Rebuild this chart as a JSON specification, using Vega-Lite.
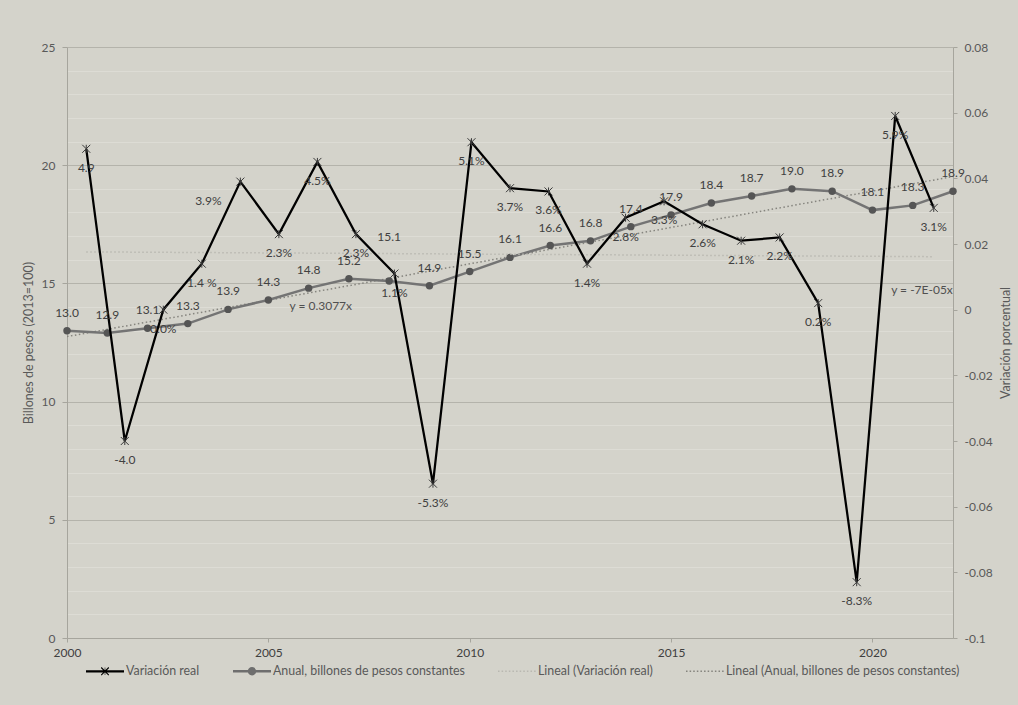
{
  "$schema": "https://vega.github.io/schema/vega-lite/v6.json",
  "width": 886,
  "height": 591,
  "autosize": "none",
  "padding": {"left": 67, "top": 47, "right": 65, "bottom": 67},
  "background": "#d4d3cb",
  "config": {
    "font": "Lato",
    "view": {"stroke": null},
    "axis": {"labelFont": "Lato", "titleFont": "Lato", "domainColor": "#a6a59d", "tickColor": "#a6a59d", "labelColor": "#595959", "titleColor": "#595959", "labelFontSize": 12, "titleFontSize": 12.5, "titleFontWeight": "normal"},
    "legend": {"labelFont": "Lato"}
  },
  "datasets": {
    "anual": [
      {"year": 2000, "value": 13.0, "label": "13.0"},
      {"year": 2001, "value": 12.9, "label": "12.9"},
      {"year": 2002, "value": 13.1, "label": "13.1"},
      {"year": 2003, "value": 13.3, "label": "13.3"},
      {"year": 2004, "value": 13.9, "label": "13.9"},
      {"year": 2005, "value": 14.3, "label": "14.3"},
      {"year": 2006, "value": 14.8, "label": "14.8"},
      {"year": 2007, "value": 15.2, "label": "15.2"},
      {"year": 2008, "value": 15.1, "label": "15.1"},
      {"year": 2009, "value": 14.9, "label": "14.9"},
      {"year": 2010, "value": 15.5, "label": "15.5"},
      {"year": 2011, "value": 16.1, "label": "16.1"},
      {"year": 2012, "value": 16.6, "label": "16.6"},
      {"year": 2013, "value": 16.8, "label": "16.8"},
      {"year": 2014, "value": 17.4, "label": "17.4"},
      {"year": 2015, "value": 17.9, "label": "17.9"},
      {"year": 2016, "value": 18.4, "label": "18.4"},
      {"year": 2017, "value": 18.7, "label": "18.7"},
      {"year": 2018, "value": 19.0, "label": "19.0"},
      {"year": 2019, "value": 18.9, "label": "18.9"},
      {"year": 2020, "value": 18.1, "label": "18.1"},
      {"year": 2021, "value": 18.3, "label": "18.3"},
      {"year": 2022, "value": 18.9, "label": "18.9"}
    ],
    "var": [
      {"year": 2000, "value": 0.049, "label": "4.9"},
      {"year": 2001, "value": -0.040, "label": "-4.0"},
      {"year": 2002, "value": 0.000, "label": "0.0%"},
      {"year": 2003, "value": 0.014, "label": "1.4 %"},
      {"year": 2004, "value": 0.039, "label": "3.9%"},
      {"year": 2005, "value": 0.023, "label": "2.3%"},
      {"year": 2006, "value": 0.045, "label": "4.5%"},
      {"year": 2007, "value": 0.023, "label": "2.3%"},
      {"year": 2008, "value": 0.011, "label": "1.1%"},
      {"year": 2009, "value": -0.053, "label": "-5.3%"},
      {"year": 2010, "value": 0.051, "label": "5.1%"},
      {"year": 2011, "value": 0.037, "label": "3.7%"},
      {"year": 2012, "value": 0.036, "label": "3.6%"},
      {"year": 2013, "value": 0.014, "label": "1.4%"},
      {"year": 2014, "value": 0.028, "label": "2.8%"},
      {"year": 2015, "value": 0.033, "label": "3.3%"},
      {"year": 2016, "value": 0.026, "label": "2.6%"},
      {"year": 2017, "value": 0.021, "label": "2.1%"},
      {"year": 2018, "value": 0.022, "label": "2.2%"},
      {"year": 2019, "value": 0.002, "label": "0.2%"},
      {"year": 2020, "value": -0.083, "label": "-8.3%"},
      {"year": 2021, "value": 0.059, "label": "5.9%"},
      {"year": 2022, "value": 0.031, "label": "3.1%"}
    ],
    "notes": [
      {"year": 2006.3, "value": 14.03, "text": "y = 0.3077x"},
      {"year": 2021.23, "value": 14.73, "text": "y = -7E-05x"}
    ]
  },
  "layer": [
    {
      "data": {"name": "anual"},
      "encoding": {
        "x": {"field": "year", "type": "quantitative", "scale": {"domain": [2000, 2022], "nice": false, "zero": false},
          "axis": {"values": [2000, 2005, 2010, 2015, 2020], "format": "d", "title": null, "grid": false, "tickSize": 4, "labelPadding": 5, "labelFlush": false, "labelColor": "#404040", "labelOverlap": false}},
        "y": {"field": "value", "type": "quantitative", "scale": {"domain": [0, 25], "nice": false, "zero": false},
          "axis": {"values": [0,1,2,3,4,5,6,7,8,9,10,11,12,13,14,15,16,17,18,19,20,21,22,23,24,25],
            "title": "Billones de pesos (2013=100)", "titlePadding": 6, "grid": true,
            "gridColor": {"condition": {"test": "datum.value % 5 === 0", "value": "#b4b3ab"}, "value": "#dddcd5"},
            "tickColor": {"condition": {"test": "datum.value % 5 === 0", "value": "#a6a59d"}, "value": "transparent"},
            "labelExpr": "datum.value % 5 === 0 ? datum.label : ''", "labelOverlap": false, "tickSize": 5, "labelPadding": 7}}
      },
      "layer": [
        {"transform": [{"regression": "value", "on": "year"}], "mark": {"type": "line", "color": "#85847e", "strokeWidth": 1.5, "strokeDash": [1.5, 2.5]}},
        {"mark": {"type": "line", "color": "#747474", "strokeWidth": 2.5}},
        {"mark": {"type": "circle", "color": "#555555", "size": 55, "opacity": 1}},
        {"transform": [{"filter": "false"}], "mark": {"type": "point", "filled": true, "opacity": 1},
          "encoding": {
            "shape": {"field": "series", "type": "nominal",
              "scale": {"domain": ["Variación real", "Anual, billones de pesos constantes", "Lineal (Variación real)", "Lineal (Anual, billones de pesos constantes)"],
                "range": [
                  "M-1,-0.06H1V0.06H-1Z M-0.22,-0.18L-0.18,-0.22L0.22,0.18L0.18,0.22Z M-0.22,0.18L0.18,-0.22L0.22,-0.18L-0.18,0.22Z M-0.015,-0.2H0.015V0.2H-0.015Z",
                  "M-1,-0.065H1V0.065H-1Z M0.22,0A0.22,0.22,0,1,1,-0.22,0A0.22,0.22,0,1,1,0.22,0Z",
                  "M-1,-0.04h0.08v0.08h-0.08Z M-0.81,-0.04h0.08v0.08h-0.08Z M-0.62,-0.04h0.08v0.08h-0.08Z M-0.43,-0.04h0.08v0.08h-0.08Z M-0.24,-0.04h0.08v0.08h-0.08Z M-0.05,-0.04h0.08v0.08h-0.08Z M0.14,-0.04h0.08v0.08h-0.08Z M0.33,-0.04h0.08v0.08h-0.08Z M0.52,-0.04h0.08v0.08h-0.08Z M0.71,-0.04h0.08v0.08h-0.08Z M0.9,-0.04h0.08v0.08h-0.08Z",
                  "M-1,-0.04h0.08v0.08h-0.08Z M-0.81,-0.04h0.08v0.08h-0.08Z M-0.62,-0.04h0.08v0.08h-0.08Z M-0.43,-0.04h0.08v0.08h-0.08Z M-0.24,-0.04h0.08v0.08h-0.08Z M-0.05,-0.04h0.08v0.08h-0.08Z M0.14,-0.04h0.08v0.08h-0.08Z M0.33,-0.04h0.08v0.08h-0.08Z M0.52,-0.04h0.08v0.08h-0.08Z M0.71,-0.04h0.08v0.08h-0.08Z M0.9,-0.04h0.08v0.08h-0.08Z"
                ]},
              "legend": {"orient": "none", "legendX": 19, "legendY": 605, "direction": "horizontal", "columns": 4, "columnPadding": 33, "labelOffset": 2, "symbolSize": 1444, "symbolStrokeWidth": 0, "labelFontSize": 12.4, "labelColor": "#595959", "title": null, "labelLimit": 400}},
            "color": {"field": "series", "type": "nominal",
              "scale": {"domain": ["Variación real", "Anual, billones de pesos constantes", "Lineal (Variación real)", "Lineal (Anual, billones de pesos constantes)"],
                "range": ["#000000", "#6e6e6e", "#b9b8b1", "#85847e"]},
              "legend": {"orient": "none", "legendX": 19, "legendY": 605, "direction": "horizontal", "columns": 4, "columnPadding": 33, "labelOffset": 2, "symbolSize": 1444, "symbolStrokeWidth": 0, "labelFontSize": 12.4, "labelColor": "#595959", "title": null, "labelLimit": 400}}
          }}
      ]
    },
    {
      "data": {"name": "var"},
      "encoding": {
        "x": {"field": "year", "type": "quantitative", "scale": {"domain": [1999.5, 2022.5], "nice": false, "zero": false}, "axis": null},
        "y": {"field": "value", "type": "quantitative", "scale": {"domain": [-0.1, 0.08], "nice": false, "zero": false},
          "axis": {"orient": "right", "values": [-0.1, -0.08, -0.06, -0.04, -0.02, 0, 0.02, 0.04, 0.06, 0.08],
            "labelExpr": "(datum.value < 0 ? '-' : '') + format(abs(datum.value), '~g')",
            "grid": false, "tickSize": 4, "labelPadding": 7, "labelOverlap": false, "labelFlush": false,
            "title": "Variación porcentual", "titlePadding": 20, "titleAngle": 270}}
      },
      "layer": [
        {"transform": [{"regression": "value", "on": "year"}], "mark": {"type": "line", "color": "#b9b8b1", "strokeWidth": 1.5, "strokeDash": [1.5, 2.5]}},
        {"mark": {"type": "line", "color": "#000000", "strokeWidth": 2.25}},
        {"mark": {"type": "point", "shape": "M-1,-1L1,1M-1,1L1,-1M0,-1L0,1", "filled": false, "color": "#3a3a3a", "size": 64, "strokeWidth": 1, "opacity": 1}}
      ]
    },
    {
      "encoding": {
        "x": {"field": "year", "type": "quantitative", "scale": {"domain": [2000, 2022], "nice": false, "zero": false}, "axis": null},
        "y": {"field": "value", "type": "quantitative", "scale": {"domain": [0, 25], "nice": false, "zero": false}, "axis": null}
      },
      "layer": [
        {"data": {"name": "anual"}, "transform": [{"filter": "datum.year !== 2008"}], "mark": {"type": "text", "dy": -18, "fontSize": 12, "color": "#404040"}, "encoding": {"text": {"field": "label"}}},
        {"data": {"name": "anual"}, "transform": [{"filter": "datum.year === 2008"}], "mark": {"type": "text", "dy": -44, "fontSize": 12, "color": "#404040"}, "encoding": {"text": {"field": "label"}}},
        {"data": {"name": "notes"}, "mark": {"type": "text", "fontSize": 12, "color": "#505050"}, "encoding": {"text": {"field": "text"}}}
      ]
    },
    {
      "data": {"name": "var"},
      "encoding": {
        "x": {"field": "year", "type": "quantitative", "scale": {"domain": [1999.5, 2022.5], "nice": false, "zero": false}, "axis": null},
        "y": {"field": "value", "type": "quantitative", "scale": {"domain": [-0.1, 0.08], "nice": false, "zero": false}, "axis": null},
        "text": {"field": "label"}
      },
      "layer": [
        {"transform": [{"filter": "datum.year !== 2004"}], "mark": {"type": "text", "dy": 19, "fontSize": 12, "color": "#404040"}},
        {"transform": [{"filter": "datum.year === 2004"}], "mark": {"type": "text", "dy": 19, "dx": -32, "fontSize": 12, "color": "#404040"}}
      ]
    }
  ],
  "resolve": {"scale": {"x": "independent", "y": "independent"}}
}
